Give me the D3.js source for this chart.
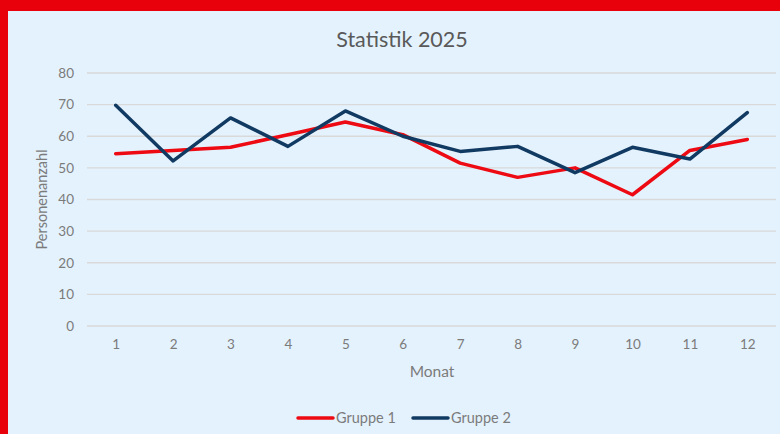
<!DOCTYPE html>
<html>
<head>
<meta charset="utf-8">
<script src="https://cdn.jsdelivr.net/npm/d3@7"></script>
<style>
  body { margin: 0; background: #e4f2fd; }
  #chart svg { display: block; }
</style>
</head>
<body>
<div id="chart"></div>
<script>
const months = ['1', '2', '3', '4', '5', '6', '7', '8', '9', '10', '11', '12'];
const gruppe1 = [54.5, 55.5, 56.5, 60.5, 64.5, 60.5, 51.5, 47, 50, 41.5, 55.5, 59];
const gruppe2 = [69.8, 52.2, 65.8, 56.8, 68, 60, 55.2, 56.8, 48.5, 56.5, 52.8, 67.5];
const yTicks = [0, 10, 20, 30, 40, 50, 60, 70, 80];
const seriesNames = ['Gruppe 1', 'Gruppe 2'];
const seriesColors = ['#ee0a12', '#113a62'];

(function() {
  const width = 780;
  const height = 434;
  const plot = { left: 87, right: 776, top: 73, bottom: 326 };
  const font = 'Lato, "Open Sans", sans-serif';
  const textColor = '#7b7b7b';

  const svg = d3.select('#chart').append('svg')
      .attr('width', width)
      .attr('height', height)
      .style('font-family', font);

  // Background and red frame
  svg.append('rect').attr('width', width).attr('height', height).attr('fill', '#e4f2fd');
  svg.append('rect').attr('x', 0).attr('y', 0).attr('width', width).attr('height', 11).attr('fill', '#e8000b');
  svg.append('rect').attr('x', 0).attr('y', 0).attr('width', 8).attr('height', height).attr('fill', '#e8000b');

  const x = d3.scalePoint()
      .domain(months)
      .range([plot.left, plot.right])
      .padding(0.5);

  const y = d3.scaleLinear()
      .domain([0, 80])
      .range([plot.bottom, plot.top]);

  // Gridlines
  svg.append('g')
      .selectAll('line')
      .data(yTicks)
      .join('line')
      .attr('x1', plot.left)
      .attr('x2', plot.right)
      .attr('y1', d => y(d))
      .attr('y2', d => y(d))
      .attr('stroke', '#d9d9d9')
      .attr('stroke-width', 1.3);

  // Y axis labels
  const yAxis = svg.append('g')
      .attr('transform', `translate(${plot.left - 13},0)`)
      .call(d3.axisLeft(y).tickValues(yTicks).tickSize(0).tickPadding(0));
  yAxis.select('.domain').remove();
  yAxis.selectAll('text')
      .attr('fill', textColor)
      .style('font-size', '13.5px')
      .style('font-family', font);

  // X axis labels
  const xAxis = svg.append('g')
      .attr('transform', `translate(0,${plot.bottom + 13})`)
      .call(d3.axisBottom(x).tickSize(0).tickPadding(0));
  xAxis.select('.domain').remove();
  xAxis.selectAll('text')
      .attr('fill', textColor)
      .attr('dy', '0.71em')
      .style('font-size', '13.5px')
      .style('font-family', font);

  // Lines
  const line = d3.line()
      .x((d, i) => x(months[i]))
      .y(d => y(d));

  [gruppe1, gruppe2].forEach((values, i) => {
    svg.append('path')
        .datum(values)
        .attr('d', line)
        .attr('fill', 'none')
        .attr('stroke', seriesColors[i])
        .attr('stroke-width', 3.5)
        .attr('stroke-linejoin', 'round')
        .attr('stroke-linecap', 'round');
  });

  // Title
  svg.append('text')
      .text('Statistik 2025')
      .attr('x', 402)
      .attr('y', 47)
      .attr('text-anchor', 'middle')
      .attr('fill', '#595959')
      .style('font-size', '21.5px');

  // Axis titles
  svg.append('text')
      .text('Monat')
      .attr('x', 432)
      .attr('y', 377)
      .attr('text-anchor', 'middle')
      .attr('fill', textColor)
      .style('font-size', '15.5px');

  svg.append('text')
      .text('Personenanzahl')
      .attr('transform', `translate(47,${(plot.top + plot.bottom) / 2}) rotate(-90)`)
      .attr('text-anchor', 'middle')
      .attr('fill', textColor)
      .style('font-size', '14.5px');

  // Legend
  const legendX = [298, 413];
  seriesNames.forEach((name, i) => {
    const g = svg.append('g').attr('transform', `translate(${legendX[i]},418)`);
    g.append('line')
        .attr('x1', 0).attr('x2', 35)
        .attr('y1', 0).attr('y2', 0)
        .attr('stroke', seriesColors[i])
        .attr('stroke-width', 3.5)
        .attr('stroke-linecap', 'round');
    g.append('text')
        .text(name)
        .attr('x', 38)
        .attr('y', 5)
        .attr('fill', textColor)
        .style('font-size', '14.5px');
  });
})();
</script>
</body>
</html>
